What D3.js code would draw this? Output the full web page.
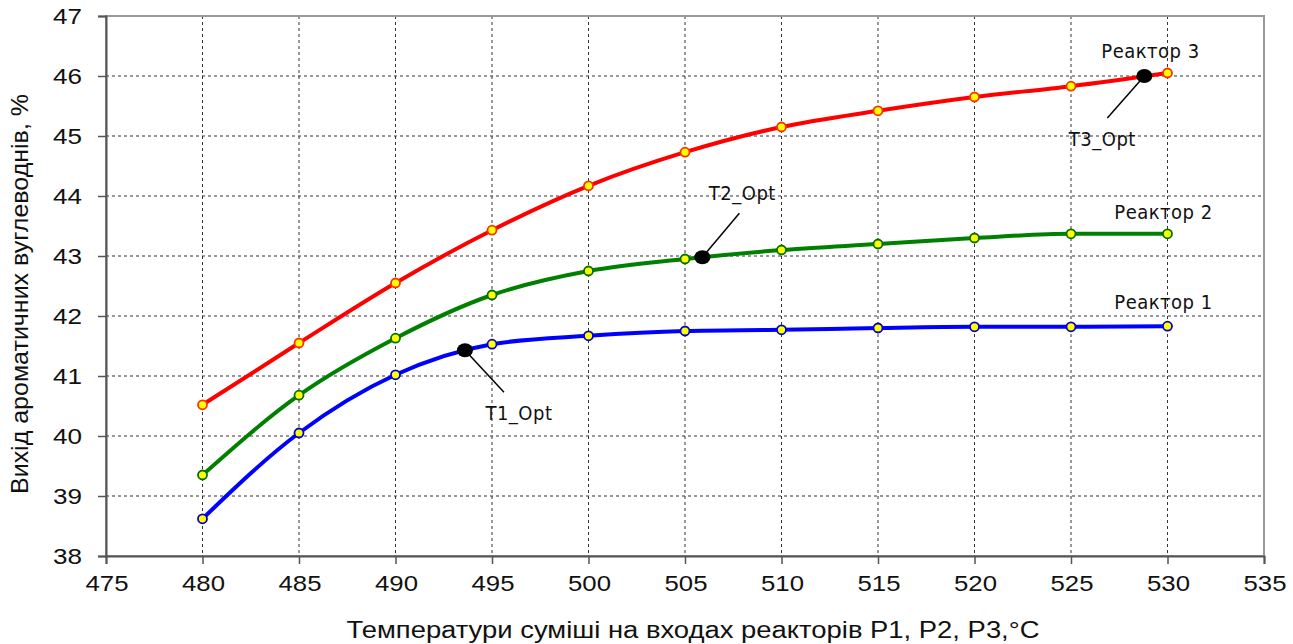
<!DOCTYPE html>
<meta charset="utf-8">
<style>
body { margin: 0; background: #fff; }
.tick text { font-family: "Liberation Sans", Arial, sans-serif; font-size: 22px; fill: #111; }
.grid line { stroke: #333; stroke-dasharray: 3,3; stroke-width: 1px; }
.lbl { font-family: "DejaVu Sans Condensed", "Liberation Sans Narrow", sans-serif; font-size: 20px; letter-spacing: 0.5px; fill: #111; }
.ttl { font-family: "Liberation Sans", Arial, sans-serif; font-size: 23px; fill: #111; }
</style>
<svg width="1293" height="644"></svg>
<script src="https://d3js.org/d3.v7.min.js"></script>
<script>
var temps = [480, 485, 490, 495, 500, 505, 510, 515, 520, 525, 530];
var reactor1 = [38.62, 40.05, 41.02, 41.53, 41.67, 41.75, 41.77, 41.80, 41.82, 41.82, 41.83];
var reactor2 = [39.35, 40.68, 41.63, 42.35, 42.75, 42.95, 43.10, 43.20, 43.30, 43.37, 43.37];
var reactor3 = [40.52, 41.55, 42.55, 43.43, 44.17, 44.73, 45.15, 45.42, 45.65, 45.83, 46.05];
var optT = [493.6, 505.9, 528.8];
var optY = [41.43, 42.98, 46.0];
var optNames = ["T1_Opt", "T2_Opt", "T3_Opt"];
var xTicks = d3.range(475, 536, 5);
var yTicks = d3.range(38, 48, 1);

var svg = d3.select("svg"),
    margin = {top: 16, right: 29, bottom: 88, left: 106},
    width = +svg.attr("width") - margin.left - margin.right,
    height = +svg.attr("height") - margin.top - margin.bottom;

var x = d3.scaleLinear().domain([475, 535]).range([0, width]);
var y = d3.scaleLinear().domain([38, 47]).range([height, 0]);

var g = svg.append("g").attr("transform", "translate(" + margin.left + "," + margin.top + ")");

// grid
g.append("g").attr("class", "grid")
  .selectAll("line").data(xTicks.filter(function(d) { return d > 475 && d < 535; }))
  .enter().append("line")
    .attr("x1", function(d) { return x(d); }).attr("x2", function(d) { return x(d); })
    .attr("y1", 0).attr("y2", height);
g.append("g").attr("class", "grid")
  .selectAll("line").data(yTicks.filter(function(d) { return d > 38 && d < 47; }))
  .enter().append("line")
    .attr("y1", function(d) { return y(d); }).attr("y2", function(d) { return y(d); })
    .attr("x1", 0).attr("x2", width);

// frame
g.append("rect").attr("width", width).attr("height", height)
  .attr("fill", "none").attr("stroke", "#999").attr("stroke-width", 2);

var xAxis = g.append("g").attr("transform", "translate(0," + height + ")")
  .call(d3.axisBottom(x).tickValues(xTicks).tickSize(8).tickPadding(11));
var yAxis = g.append("g")
  .call(d3.axisLeft(y).tickValues(yTicks).tickSize(8).tickPadding(16));
[xAxis, yAxis].forEach(function(a) {
  a.select(".domain").attr("stroke", "#555").attr("stroke-width", 2);
  a.selectAll(".tick line").attr("stroke", "#555").attr("stroke-width", 1.5);
});
xAxis.selectAll(".tick text").attr("textLength", 43).attr("lengthAdjust", "spacingAndGlyphs")
  .attr("x", -21).attr("text-anchor", "start");
yAxis.selectAll(".tick text").attr("textLength", 29).attr("lengthAdjust", "spacingAndGlyphs")
  .attr("x", -53).attr("text-anchor", "start");

var series = [
  {name: "Реактор 1", vals: reactor1, color: "#0000ff", mk: "#0000cc"},
  {name: "Реактор 2", vals: reactor2, color: "#008000", mk: "#007000"},
  {name: "Реактор 3", vals: reactor3, color: "#ff0000", mk: "#ff3000"}
];

var line = d3.line()
  .x(function(d) { return x(d[0]); })
  .y(function(d) { return y(d[1]); })
  .curve(d3.curveMonotoneX);

series.forEach(function(s) {
  var pts = temps.map(function(t, i) { return [t, s.vals[i]]; });
  g.append("path").datum(pts)
    .attr("fill", "none").attr("stroke", s.color).attr("stroke-width", 4)
    .attr("d", line);
  g.selectAll(null).data(pts).enter().append("circle")
    .attr("cx", function(d) { return x(d[0]); })
    .attr("cy", function(d) { return y(d[1]); })
    .attr("r", 4.5)
    .attr("fill", "#ffff00").attr("stroke", s.mk).attr("stroke-width", 1.8);
});

// optimum points with leader lines
var optLabel = [
  {dx: 39, dy: 42, tx: 54, ty: 70},
  {dx: 37, dy: -44, tx: 40, ty: -57},
  {dx: -37, dy: 42, tx: -42, ty: 70}
];
optT.forEach(function(t, i) {
  var cx = x(t), cy = y(optY[i]), o = optLabel[i];
  g.append("line").attr("x1", cx).attr("y1", cy)
    .attr("x2", cx + o.dx).attr("y2", cy + o.dy)
    .attr("stroke", "#000").attr("stroke-width", 1.5);
  g.append("ellipse").attr("cx", cx).attr("cy", cy).attr("rx", 8).attr("ry", 7).attr("fill", "#000");
  g.append("text").attr("class", "lbl")
    .attr("x", cx + o.tx).attr("y", cy + o.ty)
    .attr("text-anchor", "middle").text(optNames[i]);
});

// series labels
var nameY = [42.12, 43.62, 46.3];
var nameDx = [-4, -4, -17];
series.forEach(function(s, i) {
  g.append("text").attr("class", "lbl")
    .attr("x", x(530) + nameDx[i]).attr("y", y(nameY[i]))
    .attr("text-anchor", "middle").text(s.name);
});

svg.append("text").attr("class", "ttl")
  .attr("x", margin.left + width / 2 + 8).attr("y", 638)
  .attr("text-anchor", "middle")
  .attr("textLength", 693).attr("lengthAdjust", "spacingAndGlyphs")
  .text("Температури суміші на входах реакторів P1, P2, P3,°C");

svg.append("text").attr("class", "ttl")
  .attr("transform", "translate(28," + (margin.top + 278) + ") rotate(-90)")
  .attr("text-anchor", "middle")
  .attr("textLength", 400).attr("lengthAdjust", "spacingAndGlyphs")
  .text("Вихід ароматичних вуглеводнів, %");
</script>
